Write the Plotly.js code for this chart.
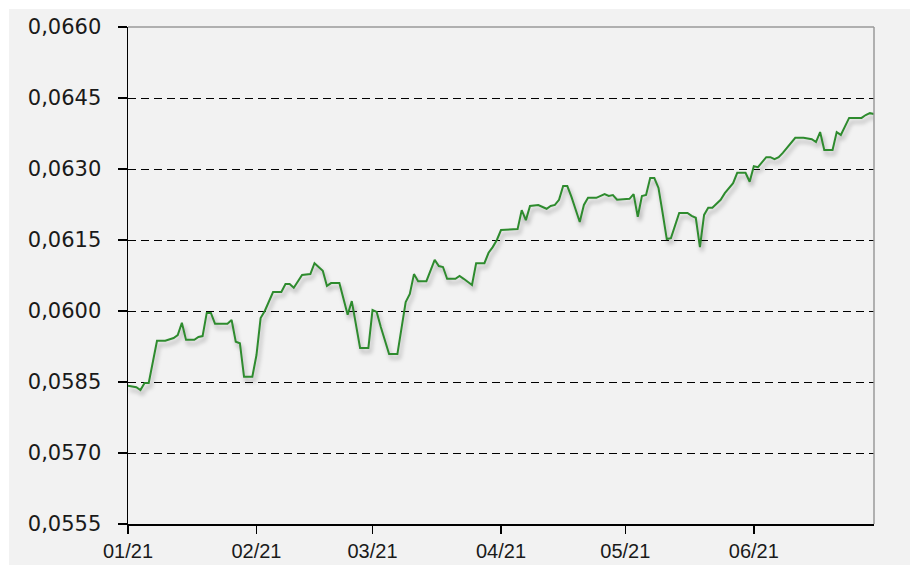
<!DOCTYPE html>
<html>
<head>
<meta charset="utf-8">
<script src="https://cdn.plot.ly/plotly-3.0.1.min.js"></script>
<style>
  html, body { margin: 0; padding: 0; background: #ffffff; }
  #chart { position: absolute; left: 9px; top: 9px; width: 901px; height: 556px; }
  #chart .scatterlayer .trace path.js-line { filter: drop-shadow(2px 4px 2px rgba(0,0,0,0.30)); }
</style>
</head>
<body>
<div id="chart"></div>
<script>
const dates = [
  "2021-01-01","2021-01-03","2021-01-04","2021-01-05","2021-01-06","2021-01-08","2021-01-10","2021-01-12","2021-01-13","2021-01-14",
  "2021-01-15","2021-01-17","2021-01-18","2021-01-19","2021-01-20","2021-01-21","2021-01-22","2021-01-25","2021-01-26","2021-01-27",
  "2021-01-28","2021-01-29","2021-01-31","2021-02-01","2021-02-02","2021-02-03","2021-02-05","2021-02-07","2021-02-08","2021-02-09",
  "2021-02-10","2021-02-12","2021-02-14","2021-02-15","2021-02-17","2021-02-18","2021-02-19","2021-02-21","2021-02-23","2021-02-24",
  "2021-02-26","2021-02-28","2021-03-01","2021-03-02","2021-03-03","2021-03-05","2021-03-07","2021-03-09","2021-03-10","2021-03-11",
  "2021-03-12","2021-03-14","2021-03-16","2021-03-17","2021-03-18","2021-03-19","2021-03-21","2021-03-22","2021-03-23","2021-03-25",
  "2021-03-26","2021-03-28","2021-03-29","2021-03-30","2021-03-31","2021-04-01","2021-04-05","2021-04-06","2021-04-07","2021-04-08",
  "2021-04-10","2021-04-12","2021-04-13","2021-04-14","2021-04-15","2021-04-16","2021-04-17","2021-04-18","2021-04-20","2021-04-21",
  "2021-04-22","2021-04-24","2021-04-26","2021-04-27","2021-04-28","2021-04-29","2021-05-02","2021-05-03","2021-05-04","2021-05-05",
  "2021-05-06","2021-05-07","2021-05-08","2021-05-09","2021-05-10","2021-05-11","2021-05-12","2021-05-14","2021-05-16","2021-05-17",
  "2021-05-18","2021-05-19","2021-05-20","2021-05-21","2021-05-22","2021-05-24","2021-05-25","2021-05-27","2021-05-28","2021-05-30",
  "2021-05-31","2021-06-01","2021-06-02","2021-06-04","2021-06-05","2021-06-06","2021-06-07","2021-06-08","2021-06-11","2021-06-13",
  "2021-06-15","2021-06-16","2021-06-17","2021-06-18","2021-06-20","2021-06-21","2021-06-22","2021-06-24","2021-06-27","2021-06-28",
  "2021-06-29","2021-06-30"
];
const rates = [
  0.05842,0.05839,0.05833,0.05848,0.05848,0.05937,0.05937,0.05943,0.05949,0.05975,
  0.05939,0.05939,0.05945,0.05947,0.05996,0.05996,0.05973,0.05973,0.05981,0.05935,
  0.05932,0.05861,0.05861,0.05907,0.05985,0.06000,0.06040,0.06040,0.06057,0.06057,
  0.06049,0.06076,0.06078,0.06101,0.06085,0.06053,0.06059,0.06059,0.05992,0.06021,
  0.05922,0.05922,0.06002,0.05998,0.05966,0.05909,0.05909,0.06019,0.06036,0.06078,
  0.06063,0.06063,0.06108,0.06095,0.06093,0.06068,0.06068,0.06074,0.06068,0.06055,
  0.06101,0.06101,0.06123,0.06135,0.06150,0.06171,0.06173,0.06213,0.06192,0.06222,
  0.06224,0.06216,0.06222,0.06224,0.06235,0.06264,0.06264,0.06241,0.06188,0.06224,
  0.06239,0.06239,0.06247,0.06243,0.06245,0.06235,0.06237,0.06247,0.06199,0.06243,
  0.06245,0.06281,0.06281,0.06260,0.06207,0.06152,0.06154,0.06207,0.06207,0.06201,
  0.06197,0.06135,0.06203,0.06218,0.06218,0.06235,0.06249,0.06270,0.06292,0.06292,
  0.06273,0.06306,0.06304,0.06325,0.06325,0.06321,0.06325,0.06334,0.06366,0.06366,
  0.06363,0.06357,0.06378,0.06340,0.06340,0.06378,0.06372,0.06408,0.06408,0.06414,
  0.06418,0.06416
];
const xRange = ["2021-01-01", "2021-06-30"];
const yRange = [0.0555, 0.0660];
const yStep = 0.0015;

const trace = {
  x: dates, y: rates, type: "scatter", mode: "lines",
  line: { color: "#2e8b2e", width: 2 },
  hoverinfo: "x+y"
};

const layout = {
  width: 901, height: 556,
  margin: { l: 119, r: 36, t: 18, b: 41 },
  paper_bgcolor: "#f2f2f2",
  plot_bgcolor: "#f2f2f2",
  separators: ",.",
  showlegend: false,
  font: { family: "Liberation Sans, Arial, sans-serif", color: "#1a1a1a" },
  xaxis: {
    type: "date", range: xRange,
    tick0: "2021-01-01", dtick: "M1", tickformat: "%m/%y",
    showgrid: false, zeroline: false,
    showline: true, linecolor: "#000", linewidth: 1.5,
    ticks: "outside", ticklen: 8, tickcolor: "#000", tickwidth: 1.5,
    tickfont: { family: "Liberation Sans, Arial, sans-serif", size: 20, color: "#1a1a1a" },
    ticklabelstandoff: 0
  },
  yaxis: {
    range: yRange, tick0: yRange[0], dtick: yStep, tickformat: ".4f",
    showgrid: true, gridcolor: "#000", gridwidth: 1, griddash: "8px,5px",
    zeroline: false,
    showline: true, linecolor: "#000", linewidth: 1.5,
    ticks: "outside", ticklen: 9, tickcolor: "#000", tickwidth: 1.5,
    tickfont: { family: "DejaVu Sans, sans-serif", size: 21, color: "#1a1a1a" },
    ticklabelstandoff: 12
  },
  shapes: [
    { type: "line", xref: "paper", yref: "paper", x0: 0, x1: 1, y0: 1, y1: 1, line: { color: "#9a9a9a", width: 1.5 } },
    { type: "line", xref: "paper", yref: "paper", x0: 1, x1: 1, y0: 0, y1: 1, line: { color: "#9a9a9a", width: 1.5 } }
  ]
};

Plotly.newPlot("chart", [trace], layout, { staticPlot: true, displayModeBar: false });
</script>
</body>
</html>
